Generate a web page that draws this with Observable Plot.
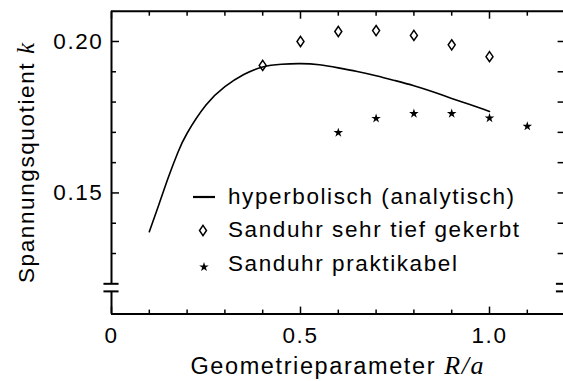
<!DOCTYPE html>
<html>
<head>
<meta charset="utf-8">
<script src="https://cdn.jsdelivr.net/npm/d3@7"></script>
<script src="https://cdn.jsdelivr.net/npm/@observablehq/plot@0.6"></script>
<style>
  body { margin: 0; background: #fff; }
  #chart svg { display: block; }
  #chart text { letter-spacing: 1.6px; }
</style>
</head>
<body>
<div id="chart"></div>
<script>
// Hyperbolic notch, analytic solution k(R/a)
const curveR = [0.1, 0.125, 0.15, 0.175, 0.2, 0.25, 0.3, 0.35, 0.4, 0.45, 0.5, 0.55, 0.6, 0.65, 0.7, 0.75, 0.8, 0.85, 0.9, 0.95, 1.0];
const curveK = [0.1372, 0.1460, 0.1550, 0.1632, 0.1697, 0.1790, 0.1851, 0.1891, 0.1916, 0.1925, 0.1927, 0.1923, 0.1913, 0.1901, 0.1887, 0.1871, 0.1854, 0.1834, 0.1812, 0.1791, 0.1769];

// Hourglass specimen, very deep notch
const deepR = [0.4, 0.5, 0.6, 0.7, 0.8, 0.9, 1.0];
const deepK = [0.1921, 0.2000, 0.2033, 0.2036, 0.2020, 0.1989, 0.1950];

// Hourglass specimen, practical geometry
const practR = [0.6, 0.7, 0.8, 0.9, 1.0, 1.1];
const practK = [0.1699, 0.1746, 0.1762, 0.1762, 0.1747, 0.1720];

const legendLabels = ["hyperbolisch (analytisch)", "Sanduhr sehr tief gekerbt", "Sanduhr praktikabel"];

const xMajor = [0, 0.5, 1.0];
const xMajorLabels = ["0", "0.5", "1.0"];
const xMinor = [0.1, 0.2, 0.3, 0.4, 0.6, 0.7, 0.8, 0.9, 1.1];
const yMajor = [0.15, 0.20];
const yMajorLabels = ["0.15", "0.20"];
const yMinor = [0.13, 0.14, 0.16, 0.17, 0.18, 0.19];
const yRightTicks = [0.13, 0.14, 0.15, 0.16, 0.17, 0.18, 0.19, 0.20];

const xDomain = [0, 1.2];
const yDomain = [0.11, 0.21];
const yBreak = [0.1175, 0.12];   // gap in the vertical axis

const curve = curveR.map((r, i) => ({r, k: curveK[i]}));
const deep = deepR.map((r, i) => ({r, k: deepK[i]}));
const pract = practR.map((r, i) => ({r, k: practK[i]}));

// upright, slightly elongated open diamond
const tallDiamond = {
  draw(ctx, size) {
    const w = Math.sqrt(size / Math.PI);
    const h = w * 1.45;
    ctx.moveTo(0, -h); ctx.lineTo(w, 0); ctx.lineTo(0, h); ctx.lineTo(-w, 0); ctx.closePath();
  }
};

const W = 563, H = 381;
const mL = 111, mR = -1.6, mT = 10.7, mB = 67.4;
const starR = 3;

const chart = Plot.plot({
  width: W, height: H,
  marginLeft: mL, marginRight: mR, marginTop: mT, marginBottom: mB,
  x: {domain: xDomain, range: [mL, W - mR]},
  y: {domain: yDomain, range: [H - mB, mT]},
  style: {fontFamily: "'Liberation Sans', Arial, sans-serif", fontSize: "22.5px", background: "#fff", color: "#000"},
  marks: [
    // frame
    Plot.ruleX([xDomain[0]], {y1: yBreak[1], y2: yDomain[1], strokeWidth: 2}),
    Plot.ruleX([xDomain[0]], {y1: yDomain[0], y2: yBreak[0], strokeWidth: 2}),
    Plot.ruleX([xDomain[1]], {y1: yBreak[1], y2: yDomain[1], strokeWidth: 2}),
    Plot.ruleX([xDomain[1]], {y1: yDomain[0], y2: yBreak[0], strokeWidth: 2}),
    Plot.ruleY([yDomain[0]], {x1: xDomain[0], x2: xDomain[1], strokeWidth: 2}),
    Plot.ruleY([yDomain[1]], {x1: xDomain[0], x2: xDomain[1], strokeWidth: 2}),
    // axis break marks
    Plot.ruleY(yBreak, {x1: xDomain[0] - 0.02, x2: xDomain[0] + 0.02, strokeWidth: 2}),
    Plot.ruleY(yBreak, {x1: xDomain[1] - 0.023, x2: xDomain[1] + 0.02, strokeWidth: 2}),
    // ticks
    Plot.axisX(xMajor, {anchor: "bottom", tickSize: -7, tickPadding: 20, strokeWidth: 1.5, label: null,
      tickFormat: d => xMajorLabels[xMajor.indexOf(d)]}),
    Plot.axisX(xMinor, {anchor: "bottom", tickSize: -4, strokeWidth: 1.5, label: null, tickFormat: () => ""}),
    Plot.axisX(xMajor, {anchor: "top", tickSize: -7, strokeWidth: 1.5, label: null, tickFormat: () => ""}),
    Plot.axisX(xMinor, {anchor: "top", tickSize: -4, strokeWidth: 1.5, label: null, tickFormat: () => ""}),
    Plot.axisY(yMajor, {anchor: "left", tickSize: -8, tickPadding: 16, strokeWidth: 1.5, label: null,
      tickFormat: d => yMajorLabels[yMajor.indexOf(d)]}),
    Plot.axisY(yMinor, {anchor: "left", tickSize: -5, strokeWidth: 1.5, label: null, tickFormat: () => ""}),
    Plot.axisY(yRightTicks, {anchor: "right", tickSize: -8, strokeWidth: 1.5, label: null, tickFormat: () => ""}),
    // data
    Plot.line(curve, {x: "r", y: "k", curve: "natural", strokeWidth: 1.6}),
    Plot.dot(deep, {x: "r", y: "k", symbol: tallDiamond, r: 3.5, fill: "none", stroke: "black", strokeWidth: 1.5}),
    Plot.dot(pract, {x: "r", y: "k", symbol: "star", r: starR, fill: "black", stroke: "none"})
  ]
});

const svg = d3.select(chart);

// axis titles with italic symbols
const xl = svg.append("text")
  .attr("x", (mL + W - mR) / 2).attr("y", 374)
  .attr("text-anchor", "middle").attr("font-size", 23.5);
xl.append("tspan").text("Geometrieparameter ");
xl.append("tspan").attr("font-family", "'Liberation Serif', 'Times New Roman', serif")
  .attr("font-style", "italic").attr("font-size", 26).text("R/a");

const yl = svg.append("text")
  .attr("transform", `translate(34,${(mT + H - mB) / 2}) rotate(-90)`)
  .attr("text-anchor", "middle").attr("font-size", 22.5);
yl.append("tspan").text("Spannungsquotient ");
yl.append("tspan").attr("font-family", "'Liberation Serif', 'Times New Roman', serif")
  .attr("font-style", "italic").attr("font-size", 25).text("k");

// legend
const lg = svg.append("g").attr("transform", "translate(193,197)").attr("text-anchor", "start");
const rowGap = 33.5;
lg.append("line").attr("x1", 0).attr("x2", 22).attr("y1", 0).attr("y2", 0)
  .attr("stroke", "black").attr("stroke-width", 2.2);
lg.append("path").attr("transform", `translate(10,${rowGap})`)
  .attr("d", d3.symbol(tallDiamond, Math.PI * 3.5 * 3.5)())
  .attr("fill", "none").attr("stroke", "black").attr("stroke-width", 1.5);
lg.append("path").attr("transform", `translate(11,${2 * rowGap + 3})`)
  .attr("d", d3.symbol(d3.symbolStar, Math.PI * starR * starR)())
  .attr("fill", "black");
lg.selectAll("text.entry").data(legendLabels).join("text")
  .attr("class", "entry")
  .attr("text-anchor", "start")
  .attr("x", 35).attr("y", (d, i) => i * rowGap + 6.5)
  .attr("font-size", 22.5)
  .text(d => d);

document.getElementById("chart").appendChild(chart);
</script>
</body>
</html>
